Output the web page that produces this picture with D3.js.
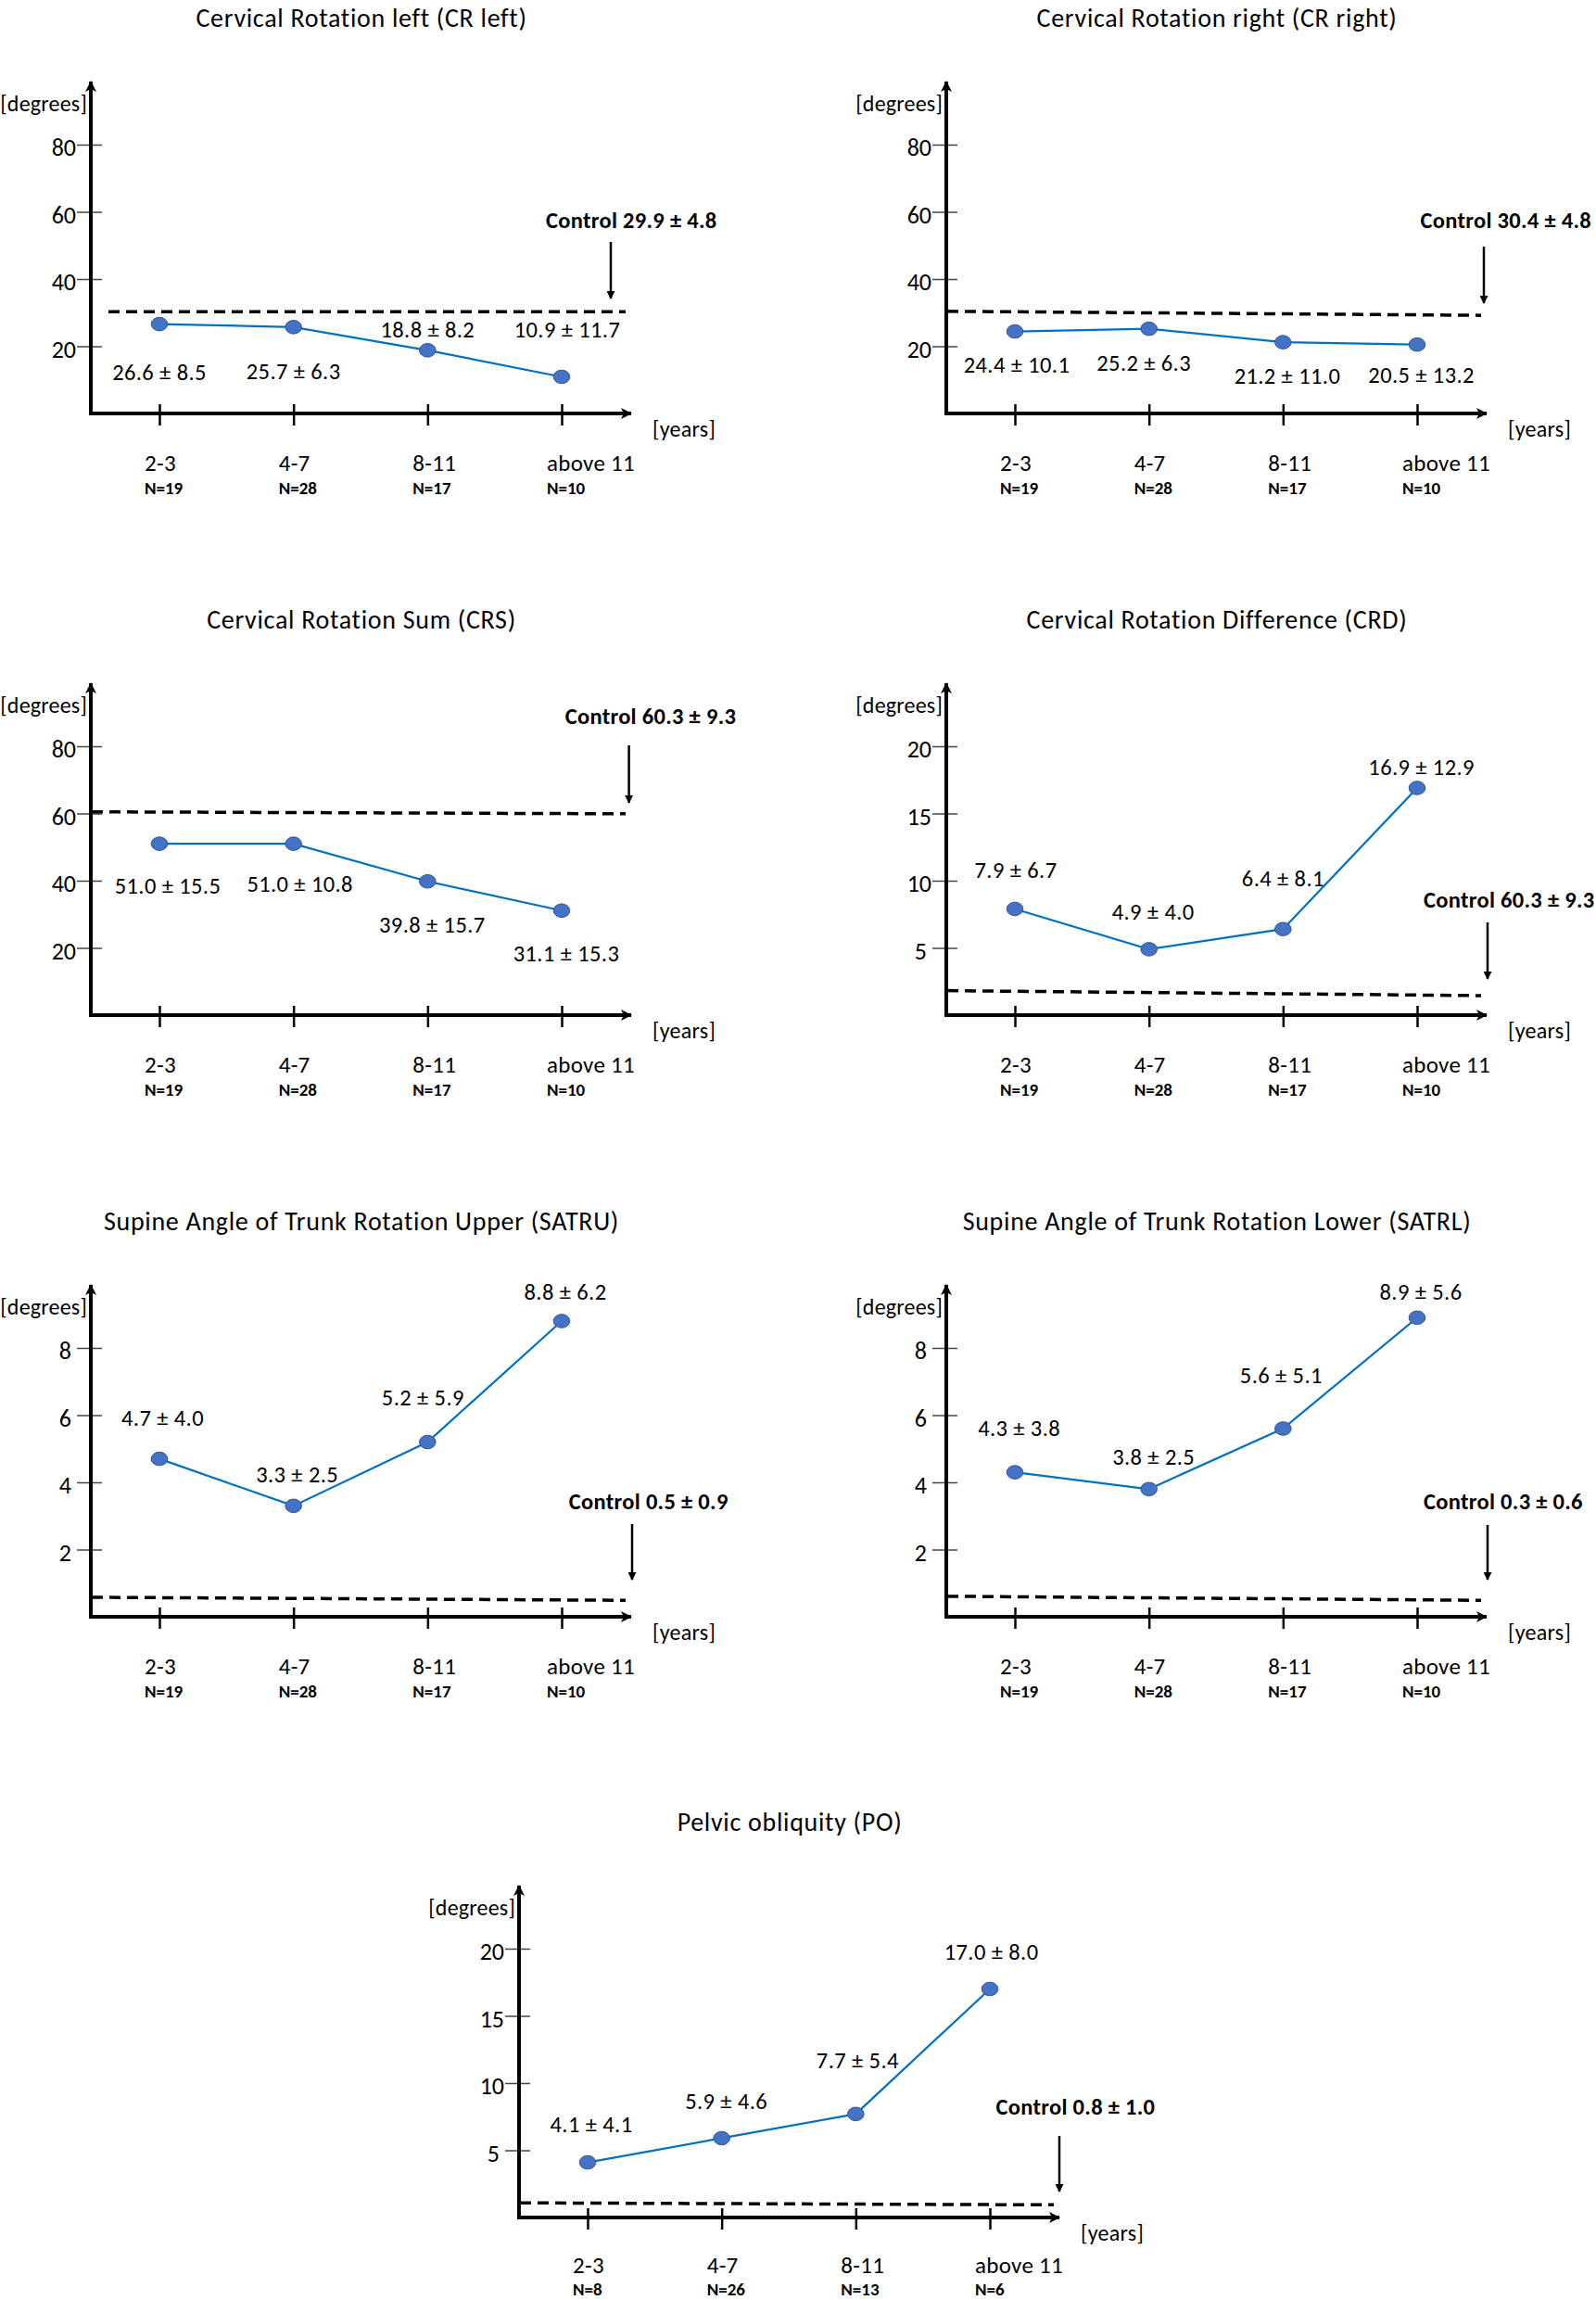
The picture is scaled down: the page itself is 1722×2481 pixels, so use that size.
<!DOCTYPE html>
<html>
<head>
<meta charset="utf-8">
<script src="https://cdn.jsdelivr.net/npm/d3@7/dist/d3.min.js"></script>
<style>
  html, body { margin: 0; padding: 0; background: #fff; }
  svg { display: block; }
  text { font-family: Carlito, Lato, "Liberation Sans", sans-serif; fill: #000; }
</style>
</head>
<body>
<svg id="chart" width="1722" height="2481"></svg>
<script>
// ---------------- DATA ----------------
const categories = ["2-3", "4-7", "8-11", "above 11"];
const nLabelsCR = ["N=19", "N=28", "N=17", "N=10"];
const nLabelsPO = ["N=8", "N=26", "N=13", "N=6"];

const crLeftMean = [26.6, 25.7, 18.8, 10.9];
const crLeftSD   = [8.5, 6.3, 8.2, 11.7];
const crRightMean = [24.4, 25.2, 21.2, 20.5];
const crRightSD   = [10.1, 6.3, 11.0, 13.2];
const crsMean = [51.0, 51.0, 39.8, 31.1];
const crsSD   = [15.5, 10.8, 15.7, 15.3];
const crdMean = [7.9, 4.9, 6.4, 16.9];
const crdSD   = [6.7, 4.0, 8.1, 12.9];
const satruMean = [4.7, 3.3, 5.2, 8.8];
const satruSD   = [4.0, 2.5, 5.9, 6.2];
const satrlMean = [4.3, 3.8, 5.6, 8.9];
const satrlSD   = [3.8, 2.5, 5.1, 5.6];
const poMean = [4.1, 5.9, 7.7, 17.0];
const poSD   = [4.1, 4.6, 5.4, 8.0];

const controlTexts = {
  crLeft: "Control 29.9 ± 4.8", crRight: "Control 30.4 ± 4.8", crs: "Control 60.3 ± 9.3",
  crd: "Control 60.3 ± 9.3", satru: "Control 0.5 ± 0.9", satrl: "Control 0.3 ± 0.6", po: "Control 0.8 ± 1.0"
};
// dashed control line level (start, end) as drawn in the picture
const crLeftControlLine = [30.3, 30.3];
const crRightControlLine = [30.4, 29.2];
const crsControlLine = [60.5, 59.9];
const crdControlLine = [1.82, 1.45];
const satruControlLine = [0.58, 0.49];
const satrlControlLine = [0.61, 0.49];
const poControlLine = [1.09, 0.94];

const yTicksCR = [20, 40, 60, 80];
const yTicksCRD = [5, 10, 15, 20];
const yTicksSATR = [2, 4, 6, 8];
const yTicksPO = [5, 10, 15, 20];

// ---------------- LAYOUT ----------------
const panels = [
  { title: "Cervical Rotation left (CR left)", x0: 98, axisY: 446, mean: crLeftMean, sd: crLeftSD,
    ticks: yTicksCR, n: nLabelsCR, control: controlTexts.crLeft, ctrlLine: crLeftControlLine, dashStart: 19,
    labelOff: [[0,60],[0,56],[0,-14],[6,-42]], ctrlX: 491, ctrlY: -200, arrowX: 561, arrowY: [-185, -124] },
  { title: "Cervical Rotation right (CR right)", x0: 1021, axisY: 446, mean: crRightMean, sd: crRightSD,
    ticks: yTicksCR, n: nLabelsCR, control: controlTexts.crRight, ctrlLine: crRightControlLine, dashStart: 1,
    labelOff: [[2,44],[-5.5,45.5],[4.6,44.6],[4.6,41]], ctrlX: 511.5, ctrlY: -200, arrowX: 580, arrowY: [-180, -119] },
  { title: "Cervical Rotation Sum (CRS)", x0: 98, axisY: 1095, mean: crsMean, sd: crsSD,
    ticks: yTicksCR, n: nLabelsCR, control: controlTexts.crs, ctrlLine: crsControlLine, dashStart: 1,
    labelOff: [[9,53.5],[7,51.7],[5,55.7],[5,54.5]], ctrlX: 511.7, ctrlY: -314, arrowX: 580.6, arrowY: [-291, -229] },
  { title: "Cervical Rotation Difference (CRD)", x0: 1021, axisY: 1095, mean: crdMean, sd: crdSD,
    ticks: yTicksCRD, n: nLabelsCR, control: controlTexts.crd, ctrlLine: crdControlLine, dashStart: 1,
    labelOff: [[1,-33.6],[4.5,-31.7],[0,-45.8],[4.6,-13.8]], ctrlX: 515, ctrlY: -116, arrowX: 584, arrowY: [-100, -39] },
  { title: "Supine Angle of Trunk Rotation Upper (SATRU)", x0: 98, axisY: 1744, mean: satruMean, sd: satruSD,
    ticks: yTicksSATR, n: nLabelsCR, control: controlTexts.satru, ctrlLine: satruControlLine, dashStart: 1,
    labelOff: [[3.5,-35.2],[4,-25],[-5,-40],[4,-22.8]], ctrlX: 515.8, ctrlY: -116.5, arrowX: 584, arrowY: [-100, -40] },
  { title: "Supine Angle of Trunk Rotation Lower (SATRL)", x0: 1021, axisY: 1744, mean: satrlMean, sd: satrlSD,
    ticks: yTicksSATR, n: nLabelsCR, control: controlTexts.satrl, ctrlLine: satrlControlLine, dashStart: 1,
    labelOff: [[4.6,-38.7],[5,-26],[-2,-48.8],[4,-19.6]], ctrlX: 515, ctrlY: -116.5, arrowX: 584, arrowY: [-99, -40] },
  { title: "Pelvic obliquity (PO)", x0: 560, axisY: 2392, mean: poMean, sd: poSD,
    ticks: yTicksPO, n: nLabelsPO, control: controlTexts.po, ctrlLine: poControlLine, dashStart: 1,
    labelOff: [[4,-33],[5,-31.6],[2,-49.3],[1.6,-31.5]], ctrlX: 514.5, ctrlY: -110.6, arrowX: 583, arrowY: [-88, -28] }
];

const svg = d3.select("#chart");
const defs = svg.append("defs");
defs.append("marker").attr("id", "axisArrow").attr("viewBox", "0 0 12 12")
  .attr("refX", 11).attr("refY", 6).attr("markerWidth", 13).attr("markerHeight", 12)
  .attr("markerUnits", "userSpaceOnUse").attr("orient", "auto")
  .append("path").attr("d", "M0,0 L12,6 L0,12 L3,6 Z").attr("fill", "#000");
defs.append("marker").attr("id", "ctrlArrow").attr("viewBox", "0 0 10 10")
  .attr("refX", 9).attr("refY", 5).attr("markerWidth", 11).attr("markerHeight", 9)
  .attr("markerUnits", "userSpaceOnUse").attr("orient", "auto")
  .append("path").attr("d", "M0,0 L10,5 L0,10 Z").attr("fill", "#000");

panels.forEach((p, pi) => {
  const g = svg.append("g");
  const x = d3.scalePoint().domain(categories).range([p.x0 + 74, p.x0 + 508]);
  const yMax = p.ticks[p.ticks.length - 1];
  const y = d3.scaleLinear().domain([0, yMax]).range([p.axisY, p.axisY - 290]);
  const bottomRow = pi === panels.length - 1;

  // title
  g.append("text").attr("x", p.x0 + 292).attr("y", p.axisY - 417)
    .attr("text-anchor", "middle").attr("font-size", 28).attr("letter-spacing", 0.7).text(p.title);

  // y axis ticks (d3 axis, customised)
  const yAxis = d3.axisLeft(y).tickValues(p.ticks).tickSize(15).tickPadding(0).tickFormat(d3.format("d"));
  const ya = g.append("g").attr("transform", `translate(${p.x0},0)`).call(yAxis);
  ya.select(".domain").remove();
  ya.selectAll(".tick line").attr("x1", 12).attr("stroke", "#444").attr("stroke-width", 1.5);
  ya.selectAll(".tick text")
    .attr("x", d => (d >= 10 ? -16 : -21))
    .attr("dy", "0.45em")
    .attr("font-size", 26).attr("font-family", null).attr("fill", "#000");

  // x axis ticks
  const xAxis = d3.axisBottom(x).tickSize(13).tickFormat("");
  const xa = g.append("g").attr("transform", `translate(0,${p.axisY})`).call(xAxis);
  xa.select(".domain").remove();
  xa.selectAll(".tick line").attr("y1", -10).attr("stroke", "#000").attr("stroke-width", 2.5);

  // axis lines with arrows
  g.append("line").attr("x1", p.x0).attr("x2", p.x0).attr("y1", p.axisY + 2).attr("y2", p.axisY - 358)
    .attr("stroke", "#000").attr("stroke-width", 4).attr("marker-end", "url(#axisArrow)");
  g.append("line").attr("x1", p.x0 - 2).attr("x2", p.x0 + 583).attr("y1", p.axisY).attr("y2", p.axisY)
    .attr("stroke", "#000").attr("stroke-width", 4).attr("marker-end", "url(#axisArrow)");

  // axis unit labels
  g.append("text").attr("x", p.x0 - 4).attr("y", p.axisY - 326).attr("text-anchor", "end")
    .attr("font-size", 24).attr("letter-spacing", 0.2).text("[degrees]");
  g.append("text").attr("x", p.x0 + 606).attr("y", p.axisY + 25)
    .attr("font-size", 24).attr("letter-spacing", 0.3).text("[years]");

  // category labels
  categories.forEach((c, i) => {
    g.append("text").attr("x", x(c) - 16).attr("y", p.axisY + (bottomRow ? 60 : 62))
      .attr("font-size", 25).attr("letter-spacing", 0.3).text(c);
    g.append("text").attr("x", x(c) - 16).attr("y", p.axisY + (bottomRow ? 84 : 87)).attr("font-size", 19)
      .attr("font-weight", "bold").text(p.n[i]);
  });

  // control dashed line
  g.append("line")
    .attr("x1", p.x0 + p.dashStart).attr("x2", p.x0 + 577)
    .attr("y1", y(p.ctrlLine[0])).attr("y2", y(p.ctrlLine[1]))
    .attr("stroke", "#000").attr("stroke-width", 3.5).attr("stroke-dasharray", "12,7");

  // control arrow + label
  g.append("line").attr("x1", p.x0 + p.arrowX).attr("x2", p.x0 + p.arrowX)
    .attr("y1", p.axisY + p.arrowY[0]).attr("y2", p.axisY + p.arrowY[1])
    .attr("stroke", "#000").attr("stroke-width", 2.5).attr("marker-end", "url(#ctrlArrow)");
  g.append("text").attr("x", p.x0 + p.ctrlX).attr("y", p.axisY + p.ctrlY)
    .attr("font-size", 24.5).attr("font-weight", "bold").attr("letter-spacing", 0.3).text(p.control);

  // series line
  const pts = categories.map((c, i) => ({ c, v: p.mean[i], sd: p.sd[i], i }));
  g.append("path").datum(pts)
    .attr("d", d3.line().x(d => x(d.c)).y(d => y(d.v)))
    .attr("fill", "none").attr("stroke", "#0070C0").attr("stroke-width", 2.2);
  g.selectAll("ellipse.pt").data(pts).enter().append("ellipse")
    .attr("cx", d => x(d.c)).attr("cy", d => y(d.v)).attr("rx", 8.8).attr("ry", 7.3)
    .attr("fill", "#4472C4").attr("stroke", "#2F5597").attr("stroke-width", 1);

  // value labels
  g.selectAll("text.val").data(pts).enter().append("text")
    .attr("x", d => x(d.c) + p.labelOff[d.i][0])
    .attr("y", d => y(d.v) + p.labelOff[d.i][1])
    .attr("text-anchor", "middle").attr("font-size", 24.5).attr("letter-spacing", 0.4)
    .text(d => `${d.v.toFixed(1)} ± ${d.sd.toFixed(1)}`);
});
</script>
</body>
</html>
